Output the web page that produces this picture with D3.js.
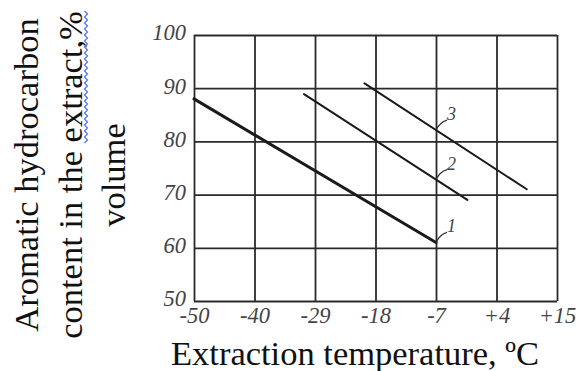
<!DOCTYPE html>
<meta charset="utf-8">
<html>
<style>
	body { margin: 0; background: #fff; }
	.grid line { stroke: #2a2a2a; stroke-width: 1.8px; }
	.tick text { font-family: "Liberation Serif", serif; font-style: italic; font-size: 22.5px; fill: #444; }
	.title { font-family: "Liberation Serif", serif; font-size: 34.5px; fill: #111; }
	.curve { fill: none; stroke: #1a1a1a; stroke-linecap: round; }
	.leader { fill: none; stroke: #333; stroke-width: 1.3px; }
	.clabel { font-family: "Liberation Serif", serif; font-style: italic; font-size: 18px; fill: #444; }
</style>
<body>
	<script src="https://d3js.org/d3.v7.min.js"></script>
	<script type="text/javascript">
		// axis ticks (x ticks are evenly spaced although the values are not)
		var xTicks = [-50, -40, -29, -18, -7, 4, 15];
		var xTickLabels = ["-50", "-40", "-29", "-18", "-7", "+4", "+15"];
		var yTicks = [50, 60, 70, 80, 90, 100];

		// the three curves
		var curveLabels = ["1", "2", "3"];
		var curveTemps = [[-50, -7], [-31, -1.3], [-20, 9.5]];
		var curveValues = [[88, 61], [88.9, 69], [90.9, 71]];
		var curveWidths = [3, 2, 2];
		var labelAt = -7; // labels hang from where each curve crosses -7

		var width = 576, height = 371;
		var plotL = 194, plotR = 557, plotT = 35, plotB = 301;

		var svg = d3.select("body").append("svg")
			.attr("width", width)
			.attr("height", height);

		var x = d3.scaleLinear()
			.domain(xTicks)
			.range(xTicks.map(function (d, i) { return plotL + i * (plotR - plotL) / (xTicks.length - 1); }));

		var y = d3.scaleLinear()
			.domain([50, 100])
			.range([plotB, plotT]);

		//grid + tick labels
		var xAxis = svg.append("g")
			.attr("class", "grid")
			.attr("transform", "translate(0," + plotB + ")")
			.call(d3.axisBottom(x)
				.tickValues(xTicks)
				.tickFormat(function (d, i) { return xTickLabels[i]; })
				.tickSize(-(plotB - plotT))
				.tickPadding(6));
		xAxis.select(".domain").remove();

		var yAxis = svg.append("g")
			.attr("class", "grid")
			.attr("transform", "translate(" + plotL + ",0)")
			.call(d3.axisLeft(y)
				.tickValues(yTicks)
				.tickSize(-(plotR - plotL))
				.tickPadding(8));
		yAxis.select(".domain").remove();
		yAxis.selectAll(".tick text").attr("dy", "0.22em");

		//curves
		var line = d3.line()
			.x(function (d) { return x(d[0]); })
			.y(function (d) { return y(d[1]); });

		curveLabels.forEach(function (lab, i) {
			var pts = curveTemps[i].map(function (t, j) { return [t, curveValues[i][j]]; });
			svg.append("path")
				.attr("class", "curve")
				.attr("d", line(pts))
				.style("stroke-width", curveWidths[i]);

			// point on the curve (in pixels) at x = -7
			var px0 = x(pts[0][0]), py0 = y(pts[0][1]);
			var px1 = x(pts[1][0]), py1 = y(pts[1][1]);
			var ax = x(labelAt);
			var ay = py0 + (py1 - py0) * (ax - px0) / (px1 - px0);

			svg.append("path")
				.attr("class", "leader")
				.attr("d", "M" + ax + "," + ay + "Q" + (ax + 4) + "," + (ay - 8) + " " + (ax + 11) + "," + (ay - 10));
			svg.append("text")
				.attr("class", "clabel")
				.attr("x", ax + 11)
				.attr("y", ay - 10)
				.text(lab);
		});

		//axis titles
		svg.append("text")
			.attr("class", "title")
			.attr("x", 355)
			.attr("y", 365)
			.attr("text-anchor", "middle")
			.text("Extraction temperature, \u00baC");

		var yTitle = svg.append("g")
			.attr("transform", "rotate(-90)");
		var yLines = ["Aromatic hydrocarbon", "content in the extract,%", "volume"];
		var yBase = [38, 82, 125];
		yLines.forEach(function (s, i) {
			yTitle.append("text")
				.attr("class", "title")
				.attr("x", -175)
				.attr("y", yBase[i])
				.attr("text-anchor", "middle")
				.text(s);
		});

		// spell-check squiggle under "extract,%"
		var sq = [];
		for (var k = 0; k <= 44; k++) {
			sq.push([85 + (k % 2 ? 2.5 : -0.5), 143 - k * 3]);
		}
		svg.append("path")
			.attr("d", d3.line()(sq))
			.attr("fill", "none")
			.attr("stroke", "#5b6ee8")
			.attr("stroke-width", 1.2);
	</script>
</body>

</html>
